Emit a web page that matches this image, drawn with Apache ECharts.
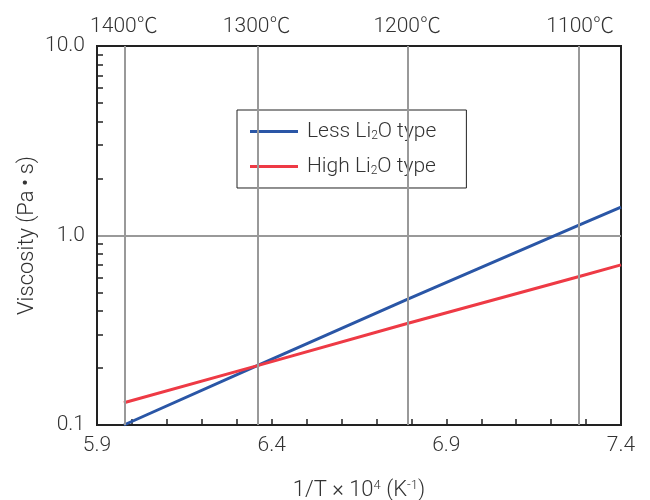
<!DOCTYPE html>
<html>
<head>
<meta charset="utf-8">
<script src="https://cdn.jsdelivr.net/npm/echarts@6/dist/echarts.min.js"></script>
<style>
  html, body { margin: 0; padding: 0; background: #fff; }
  #chart { width: 650px; height: 500px; }
</style>
</head>
<body>
<div id="chart"></div>
<script>
// 1/T x 10^4 positions
var xs = [5.977, 6.357, 6.788, 7.283, 7.4];
var lessLi2O = [0.100, 0.205, 0.46, 1.14, 1.41];
var highLi2O = [0.131, 0.205, 0.343, 0.61, 0.70];
var temps = [1400, 1300, 1200, 1100];
var yMinor = [0.2, 0.3, 0.4, 0.5, 0.6, 0.7, 0.8, 0.9, 2, 3, 4, 5, 6, 7, 8, 9];

var font = "Roboto, 'Noto Sans CJK JP'";
var tempPos = temps.map(function (t) { return +(1e4 / (t + 273.15)).toFixed(3); });

function pairs(ys) {
	var d = [];
	for (var i = 0; i < xs.length; i++) {
		d.push([xs[i], ys[i]]);
	}
	return d;
}

var chart = echarts.init(document.getElementById('chart'));
var option = {
	backgroundColor: '#fff',
	animation: false,
	textStyle: { fontFamily: font },
	grid: {
		left: 97, right: 29, top: 46, bottom: 75,
		outerBoundsMode: 'none',
		containLabel: false,
		show: true, borderColor: '#222', borderWidth: 2
	},
	legend: {
		left: 237, top: 110,
		orient: 'vertical',
		width: 226,
		padding: [11, 30, 11, 13],
		itemGap: 14,
		itemWidth: 48, itemHeight: 3,
		icon: 'rect',
		borderColor: '#222', borderWidth: 1,
		backgroundColor: '#fff',
		data: ['Less Li2O type', 'High Li2O type'],
		formatter: function (name) {
			return name.replace('Li2O', 'Li{sub|2}O');
		},
		textStyle: {
			fontFamily: font, fontSize: 21, color: '#333', fontWeight: 300,
			padding: [0, 0, 0, 4],
			rich: {
				sub: { fontSize: 12, verticalAlign: 'bottom', padding: [7, 0, 0, 0], fontFamily: font, fontWeight: 300, color: '#333' }
			}
		}
	},
	xAxis: [{
		type: 'value',
		min: 5.9, max: 7.4, interval: 0.5,
		name: '1/T \u00d7 10{sup|4} (K{sup|-1})',
		nameLocation: 'middle', nameGap: 54,
		nameTextStyle: {
			fontFamily: font, fontSize: 22, color: '#333', fontWeight: 300,
			rich: { sup: { fontSize: 13, verticalAlign: 'top', padding: [0, 0, 9, 0], fontFamily: font, fontWeight: 300, color: '#333' } }
		},
		axisLine: { lineStyle: { color: '#222', width: 2 } },
		axisTick: { inside: true, length: 6, lineStyle: { color: '#222', width: 1.5 } },
		minorTick: { show: true, splitNumber: 5, length: 6, lineStyle: { color: '#222', width: 1.5 } },
		axisLabel: {
			fontFamily: font, fontSize: 21, color: '#333', fontWeight: 300, margin: 10,
			formatter: function (v) { return v.toFixed(1); }
		},
		splitLine: { show: false }
	}, {
		type: 'value',
		position: 'top',
		min: 5.9, max: 7.4,
		axisLine: { lineStyle: { color: '#222', width: 2 } },
		axisTick: { show: false },
		splitLine: { show: false },
		axisLabel: {
			customValues: tempPos,
			fontFamily: font, fontSize: 21, color: '#333', fontWeight: 300, margin: 9,
			formatter: function (v) {
				var i = tempPos.indexOf(v);
				return i >= 0 ? temps[i] + '\u2103' : '';
			}
		}
	}],
	yAxis: [{
		type: 'log',
		min: 0.1, max: 10,
		name: 'Viscosity (Pa\u2009\u2022\u2009s)',
		nameLocation: 'middle', nameGap: 58,
		nameMoveOverlap: false,
		nameTextStyle: { fontFamily: font, fontSize: 22, color: '#333', fontWeight: 300 },
		axisLine: { lineStyle: { color: '#222', width: 2 } },
		axisTick: { show: false },
		axisLabel: {
			fontFamily: font, fontSize: 21, color: '#333', fontWeight: 300, margin: 12,
			formatter: function (v) { return v.toFixed(1); }
		},
		splitLine: { lineStyle: { color: '#999', width: 2 } }
	}, {
		type: 'log',
		position: 'left',
		min: 0.1, max: 10,
		axisLine: { show: false },
		axisLabel: { show: false },
		splitLine: { show: false },
		axisTick: {
			inside: true, length: 6,
			customValues: yMinor,
			lineStyle: { color: '#222', width: 1.5 }
		}
	}],
	series: [{
		name: 'Less Li2O type',
		type: 'line',
		data: pairs(lessLi2O),
		symbol: 'none',
		lineStyle: { color: '#2a56a6', width: 3 },
		itemStyle: { color: '#2a56a6' },
		markLine: {
			silent: true,
			symbol: 'none',
			label: { show: false },
			lineStyle: { color: '#999', width: 2, type: 'solid' },
			data: tempPos.map(function (p) { return { xAxis: p }; })
		},
		z: 3
	}, {
		name: 'High Li2O type',
		type: 'line',
		data: pairs(highLi2O),
		symbol: 'none',
		lineStyle: { color: '#ee3a45', width: 3 },
		itemStyle: { color: '#ee3a45' },
		z: 3
	}]
};
chart.setOption(option);
window.onresize = chart.resize;
</script>
</body>
</html>
